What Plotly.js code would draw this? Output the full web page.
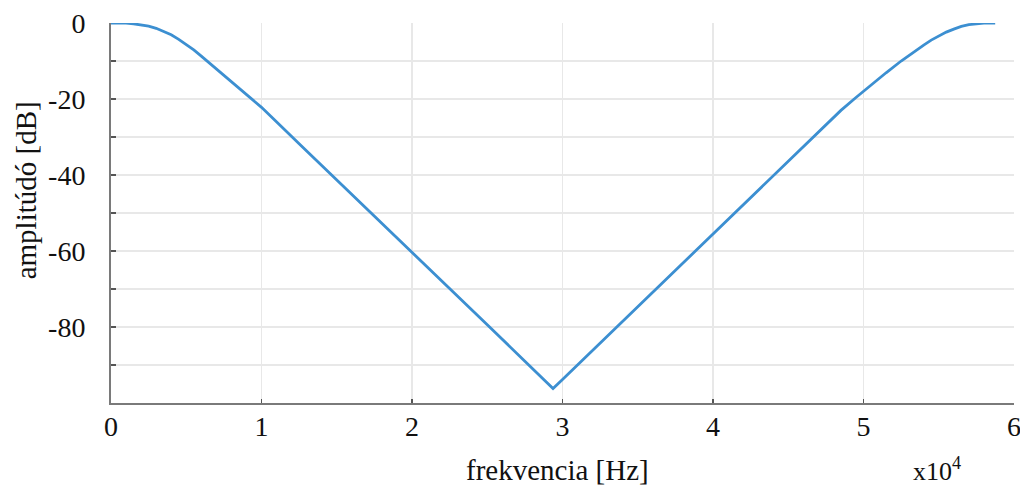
<!DOCTYPE html>
<html>
<head>
<meta charset="utf-8">
<script src="https://cdn.plot.ly/plotly-3.0.1.min.js"></script>
<style>
  html, body { margin: 0; padding: 0; background: #fff; }
  #chart { width: 1020px; height: 492px; }
</style>
</head>
<body>
<div id="chart"></div>
<script>
// Frequency response: frequency in Hz, amplitude in dB
const freqHz = [
  0, 500, 1000, 1500, 2000, 2500, 3000, 3500, 4000, 4500, 5000,
  5500, 6000, 6500, 7000, 7500, 8000, 9000, 10000,
  12500, 15000, 17500, 20000, 22500, 25000, 27500, 29370,
  30000, 32500, 35000, 37500, 40000, 42500, 45000, 47500,
  48500, 49500, 50500, 51500, 52500, 53500, 54000, 54500, 55000,
  55500, 56000, 56500, 57000, 57500, 58000, 58750
];
const amplitudeDb = [
  0, 0, -0.05, -0.2, -0.45, -0.85, -1.4, -2.2, -3.1, -4.3, -5.6,
  -7.1, -8.7, -10.4, -12.2, -13.9, -15.6, -18.9, -22.2,
  -31.8, -41.3, -50.8, -60.2, -69.8, -79.4, -89.0, -96.2,
  -93.8, -84.2, -74.6, -65.0, -55.4, -45.8, -36.2, -26.7,
  -23.0, -19.6, -16.3, -13.1, -10.0, -7.1, -5.8, -4.5, -3.4,
  -2.4, -1.6, -0.9, -0.45, -0.15, -0.03, 0
];

// Axis ticks
const xTickVals = [0, 10000, 20000, 30000, 40000, 50000, 60000];
const xTickText = ['0', '1', '2', '3', '4', '5', '6'];
const yTickVals = [-100, -90, -80, -70, -60, -50, -40, -30, -20, -10, 0];
const yTickText = [' ', ' ', '-80', ' ', '-60', ' ', '-40', ' ', '-20', ' ', '0'];

const serif = 'Liberation Serif';
const axisGray = '#7a7a7a';
const gridGray = '#e8e8e8';

const trace = {
  x: freqHz,
  y: amplitudeDb,
  type: 'scatter',
  mode: 'lines',
  line: { color: '#3c8fd1', width: 2.8, shape: 'linear' },
  hoverinfo: 'x+y'
};

const layout = {
  width: 1020,
  height: 492,
  margin: { l: 111, r: 6, t: 23, b: 89 },
  paper_bgcolor: '#ffffff',
  plot_bgcolor: '#ffffff',
  showlegend: false,
  font: { family: serif, size: 28, color: '#111' },
  xaxis: {
    range: [0, 60000],
    tickvals: xTickVals,
    ticktext: xTickText,
    ticks: 'inside',
    ticklen: 4,
    tickwidth: 1.5,
    tickcolor: '#555',
    ticklabelstandoff: -3,
    ticklabeloverflow: 'allow',
    showgrid: true,
    gridcolor: gridGray,
    gridwidth: 1.5,
    zeroline: false,
    showline: true,
    linecolor: axisGray,
    linewidth: 2,
    tickfont: { family: serif, size: 28, color: '#111' },
    fixedrange: true
  },
  yaxis: {
    range: [-100, 0],
    tickvals: yTickVals,
    ticktext: yTickText,
    ticks: 'inside',
    ticklen: 5,
    tickwidth: 1.5,
    tickcolor: '#555',
    ticklabelstandoff: 18,
    showgrid: true,
    gridcolor: gridGray,
    gridwidth: 1.5,
    zeroline: false,
    showline: true,
    linecolor: axisGray,
    linewidth: 2,
    tickfont: { family: serif, size: 28, color: '#111' },
    fixedrange: true
  },
  annotations: [
    {
      text: 'frekvencia [Hz]',
      xref: 'paper', yref: 'paper',
      x: 0.495, y: -0.13,
      xanchor: 'center', yanchor: 'top',
      showarrow: false,
      font: { family: serif, size: 29, color: '#111' }
    },
    {
      text: 'x10<sup>4</sup>',
      xref: 'paper', yref: 'paper',
      x: 0.915, y: -0.125,
      xanchor: 'center', yanchor: 'top',
      showarrow: false,
      font: { family: serif, size: 26, color: '#111' }
    },
    {
      text: 'amplitúdó [dB]',
      xref: 'paper', yref: 'paper',
      x: -0.094, y: 0.56,
      xanchor: 'center', yanchor: 'middle',
      textangle: -90,
      showarrow: false,
      font: { family: serif, size: 29, color: '#111' }
    }
  ]
};

Plotly.newPlot('chart', [trace], layout, { displayModeBar: false, staticPlot: true });
</script>
</body>
</html>
